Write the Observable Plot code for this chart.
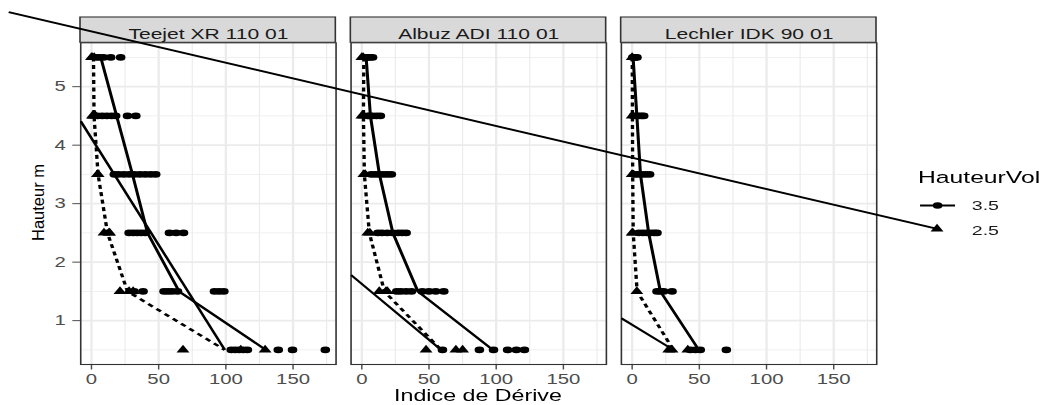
<!DOCTYPE html>
<html>
<head>
<meta charset="utf-8">
<script src="https://cdn.jsdelivr.net/npm/d3@7"></script>
<script src="https://cdn.jsdelivr.net/npm/@observablehq/plot@0.6"></script>
<style>
  html, body { margin: 0; padding: 0; background: white; }
  #outer { position: relative; width: 1046px; height: 405px; overflow: hidden; background: white; }
  #wrap { position: absolute; left: 0; top: 0; width: 720px; height: 405px; transform: scaleX(1.4527778); transform-origin: 0 0; }
</style>
</head>
<body>
<div id="outer"><div id="wrap"></div></div>
<script>
// ---------- data ----------
const nozzles = ["Teejet XR 110 01", "Albuz ADI 110 01", "Lechler IDK 90 01"];
const heights = [5.5, 4.5, 3.5, 2.5, 1.5, 0.5];
const volLevels = ["3.5", "2.5"];
const xTicks = [0, 50, 100, 150];
const xMinor = [25, 75, 125, 175];
const yTicks = [1, 2, 3, 4, 5];
const yMinor = [0.5, 1.5, 2.5, 3.5, 4.5, 5.5];

// individual drift values, one list per height (same order as heights)
const teejet35 = [
  [3.5, 6, 9, 14.3, 21.7],
  [4.5, 8, 11.5, 15, 18, 26.8, 33],
  [17, 20, 24, 28, 32, 36, 40, 44, 47.8],
  [28, 31, 34, 37, 40, 58, 63, 68.5],
  [31.7, 38.4, 54, 57, 60, 64, 91.5, 95, 98.5],
  [104, 107, 110, 113, 116, 139, 149.6, 174]
];
const teejet25 = [[0, 0.5, 2], [0.7, 1.5, 3], [4.4, 5], [9.3, 13, 13.5], [21.2, 28, 31], [68.1, 111.1, 129.2]];
const albuz35 = [
  [3, 4.5, 6, 8],
  [4.5, 6, 8, 11, 13.8],
  [7, 10, 13, 16, 19, 22],
  [12, 15, 19, 23, 27, 30, 33],
  [26, 29, 33, 37, 45, 50, 55, 61],
  [60, 87.5, 98, 108.5, 115, 121]
];
const albuz25 = [[0, 1], [0, 1.5], [1.5, 2.5], [4.4, 6], [13, 18, 19], [47.8, 70, 75]];
const lechler35 = [
  [0.5, 1.5, 2.5, 3.6],
  [1, 3, 5, 7, 8.6],
  [1.5, 4, 7, 10, 13],
  [5, 8, 11, 14, 16.5, 18.5],
  [18.5, 21, 23.5, 29.7],
  [43.3, 47, 50.7, 70.1]
];
const lechler25 = [[0], [0], [0], [0, 0.5], [3.5], [27.2, 29.7, 41.4]];

// mean lines per height
const teejetMean35 = [6.9, 18.7, 30.5, 41.7, 65.2, 129.8];
const teejetMean25 = [1.5, 1.9, 4.9, 11.9, 26.8, 99.2];
const albuzMean35 = [3.2, 6.4, 13.1, 23.1, 41.7, 97.5];
const albuzMean25 = [1.5, 1.2, 1.9, 5.6, 16.8, 59.0];
const lechlerMean35 = [0.7, 3.5, 6.2, 12.3, 21.0, 49.6];
const lechlerMean25 = [0.1, 0.2, 0.4, 0.8, 3.7, 30.7];

// stray straight segments seen in the figure (start x, start y) -> end of dotted line
const strayStartX = [-8, -8, -8];
const strayStartY = [4.41, 1.78, 1.04];
// long stray line (in first panel's coordinates), ends at the legend key
const longStrayX = [-61.6, 630.2];
const longStrayY = [6.276, 2.563];

// ---------- tables ----------
const pointSets = [
  [nozzles[0], "3.5", teejet35], [nozzles[0], "2.5", teejet25],
  [nozzles[1], "3.5", albuz35], [nozzles[1], "2.5", albuz25],
  [nozzles[2], "3.5", lechler35], [nozzles[2], "2.5", lechler25]
];
const points = pointSets.flatMap(([nozzle, vol, rows]) =>
  rows.flatMap((xs, i) => xs.map(x => ({nozzle, vol, height: heights[i], x}))));
const meanSets = [
  [nozzles[0], "3.5", teejetMean35], [nozzles[0], "2.5", teejetMean25],
  [nozzles[1], "3.5", albuzMean35], [nozzles[1], "2.5", albuzMean25],
  [nozzles[2], "3.5", lechlerMean35], [nozzles[2], "2.5", lechlerMean25]
];
const means = meanSets.flatMap(([nozzle, vol, xs]) => xs.map((x, i) => ({nozzle, vol, height: heights[i], x})));
const mean25ByNozzle = [teejetMean25, albuzMean25, lechlerMean25];
const strays = nozzles.flatMap((nozzle, k) => [
  {nozzle, x: strayStartX[k], height: strayStartY[k]},
  {nozzle, x: mean25ByNozzle[k][heights.length - 1], height: heights[heights.length - 1]}
]);
const longStray = longStrayX.map((x, i) => ({nozzle: nozzles[0], x, height: longStrayY[i]}));

const xDomain = [-8, 182];
const yDomain = [0.25, 5.75];

const chart = Plot.plot({
  width: 720,
  height: 405,
  marginLeft: 55.07,
  marginRight: 117.02,
  marginTop: 42.3,
  marginBottom: 41,
  facet: {marginTop: 0, marginRight: 0, marginBottom: 0, marginLeft: 0},
  fx: {domain: nozzles, axis: null, paddingInner: 0.0555, paddingOuter: 0, round: false},
  x: {domain: xDomain, ticks: xTicks, tickFormat: d => `${d}`, tickSize: 5.5, tickPadding: 4.5, label: null},
  y: {domain: yDomain, ticks: yTicks, tickFormat: d => `${d}`, tickSize: 5.3, tickPadding: 5, label: null},
  style: {
    fontFamily: "'Liberation Sans', Arial, sans-serif",
    fontSize: "14px",
    color: "#4D4D4D",
    background: "white",
    overflow: "visible"
  },
  marks: [
    Plot.ruleX(xMinor, {stroke: "#EBEBEB", strokeWidth: 0.8}),
    Plot.ruleY(yMinor, {stroke: "#EBEBEB", strokeWidth: 0.8}),
    Plot.ruleX(xTicks, {stroke: "#EBEBEB", strokeWidth: 1.6}),
    Plot.ruleY(yTicks, {stroke: "#EBEBEB", strokeWidth: 1.6}),
    Plot.frame({stroke: "#333333", strokeWidth: 1.1}),
    Plot.rect(nozzles, {
      fx: d => d, x1: () => xDomain[0], x2: () => xDomain[1],
      y1: () => yDomain[1], y2: () => yDomain[1], insetTop: -25.3,
      fill: "#D9D9D9", stroke: "#333333", strokeWidth: 1.1
    }),
    Plot.text(nozzles, {
      fx: d => d, text: d => d, frameAnchor: "top", lineAnchor: "bottom", dy: -4.3,
      fill: "#1A1A1A", fontSize: 14.5
    }),
    Plot.dot(points.filter(d => d.vol === volLevels[0]), {fx: "nozzle", x: "x", y: "height", symbol: "circle", r: 3.3, fill: "black", stroke: "none"}),
    Plot.dot(points.filter(d => d.vol === volLevels[1]), {fx: "nozzle", x: "x", y: "height", symbol: "triangle", r: 3.3, fill: "black", stroke: "none"}),
    Plot.line(means.filter(d => d.vol === volLevels[0]), {fx: "nozzle", x: "x", y: "height", z: "nozzle", stroke: "black", strokeWidth: 2.1, strokeLinecap: "butt"}),
    Plot.line(means.filter(d => d.vol === volLevels[1]), {fx: "nozzle", x: "x", y: "height", z: "nozzle", stroke: "black", strokeWidth: 2.3, strokeLinecap: "butt", strokeDasharray: "4,3.5"}),
    Plot.line(strays, {fx: "nozzle", x: "x", y: "height", z: "nozzle", stroke: "black", strokeWidth: 1.9, strokeLinecap: "butt", clip: true}),
    Plot.line(longStray, {fx: "nozzle", x: "x", y: "height", stroke: "black", strokeWidth: 1.9, strokeLinecap: "butt"})
  ]
});

document.getElementById("wrap").appendChild(chart);

// tick colour like ggplot (grey20)
chart.querySelectorAll('g[aria-label="x-axis tick"], g[aria-label="y-axis tick"]').forEach(g => g.setAttribute("stroke", "#333333"));

const svg = d3.select(chart);
const font = "'Liberation Sans', Arial, sans-serif";

// axis titles
svg.append("text")
  .attr("x", (55.07 + 602.98) / 2).attr("y", 401.5)
  .attr("text-anchor", "middle").attr("font-family", font).attr("font-size", 16).attr("fill", "black")
  .text("Indice de Dérive");
svg.append("text")
  .attr("transform", "translate(30.5,202.5) scale(0.68834,1) rotate(-90)")
  .attr("text-anchor", "middle").attr("font-family", font).attr("font-size", 16.5).attr("fill", "black")
  .text("Hauteur m");

// legend
const lg = svg.append("g").attr("font-family", font).attr("text-anchor", "start");
lg.append("text").attr("x", 631.9).attr("y", 183.3).attr("text-anchor", "start").attr("font-size", 17).attr("fill", "black").text("HauteurVol");
const keyY = [205.5, 230];
lg.append("line").attr("x1", 633.3).attr("x2", 657.4).attr("y1", keyY[0]).attr("y2", keyY[0]).attr("stroke", "black").attr("stroke-width", 2.1);
lg.append("circle").attr("cx", 645.4).attr("cy", keyY[0]).attr("r", 3.3).attr("fill", "black");
lg.append("path").attr("d", d3.symbol(d3.symbolTriangle, Math.PI * 3.3 * 3.3)()).attr("transform", `translate(645,${keyY[1] - 1})`).attr("fill", "black");
volLevels.forEach((v, i) => {
  lg.append("text").attr("x", 668.9).attr("y", keyY[i]).attr("dy", "0.35em").attr("text-anchor", "start").attr("font-size", 13.5).attr("fill", "#1A1A1A").text(v);
});
</script>
</body>
</html>
